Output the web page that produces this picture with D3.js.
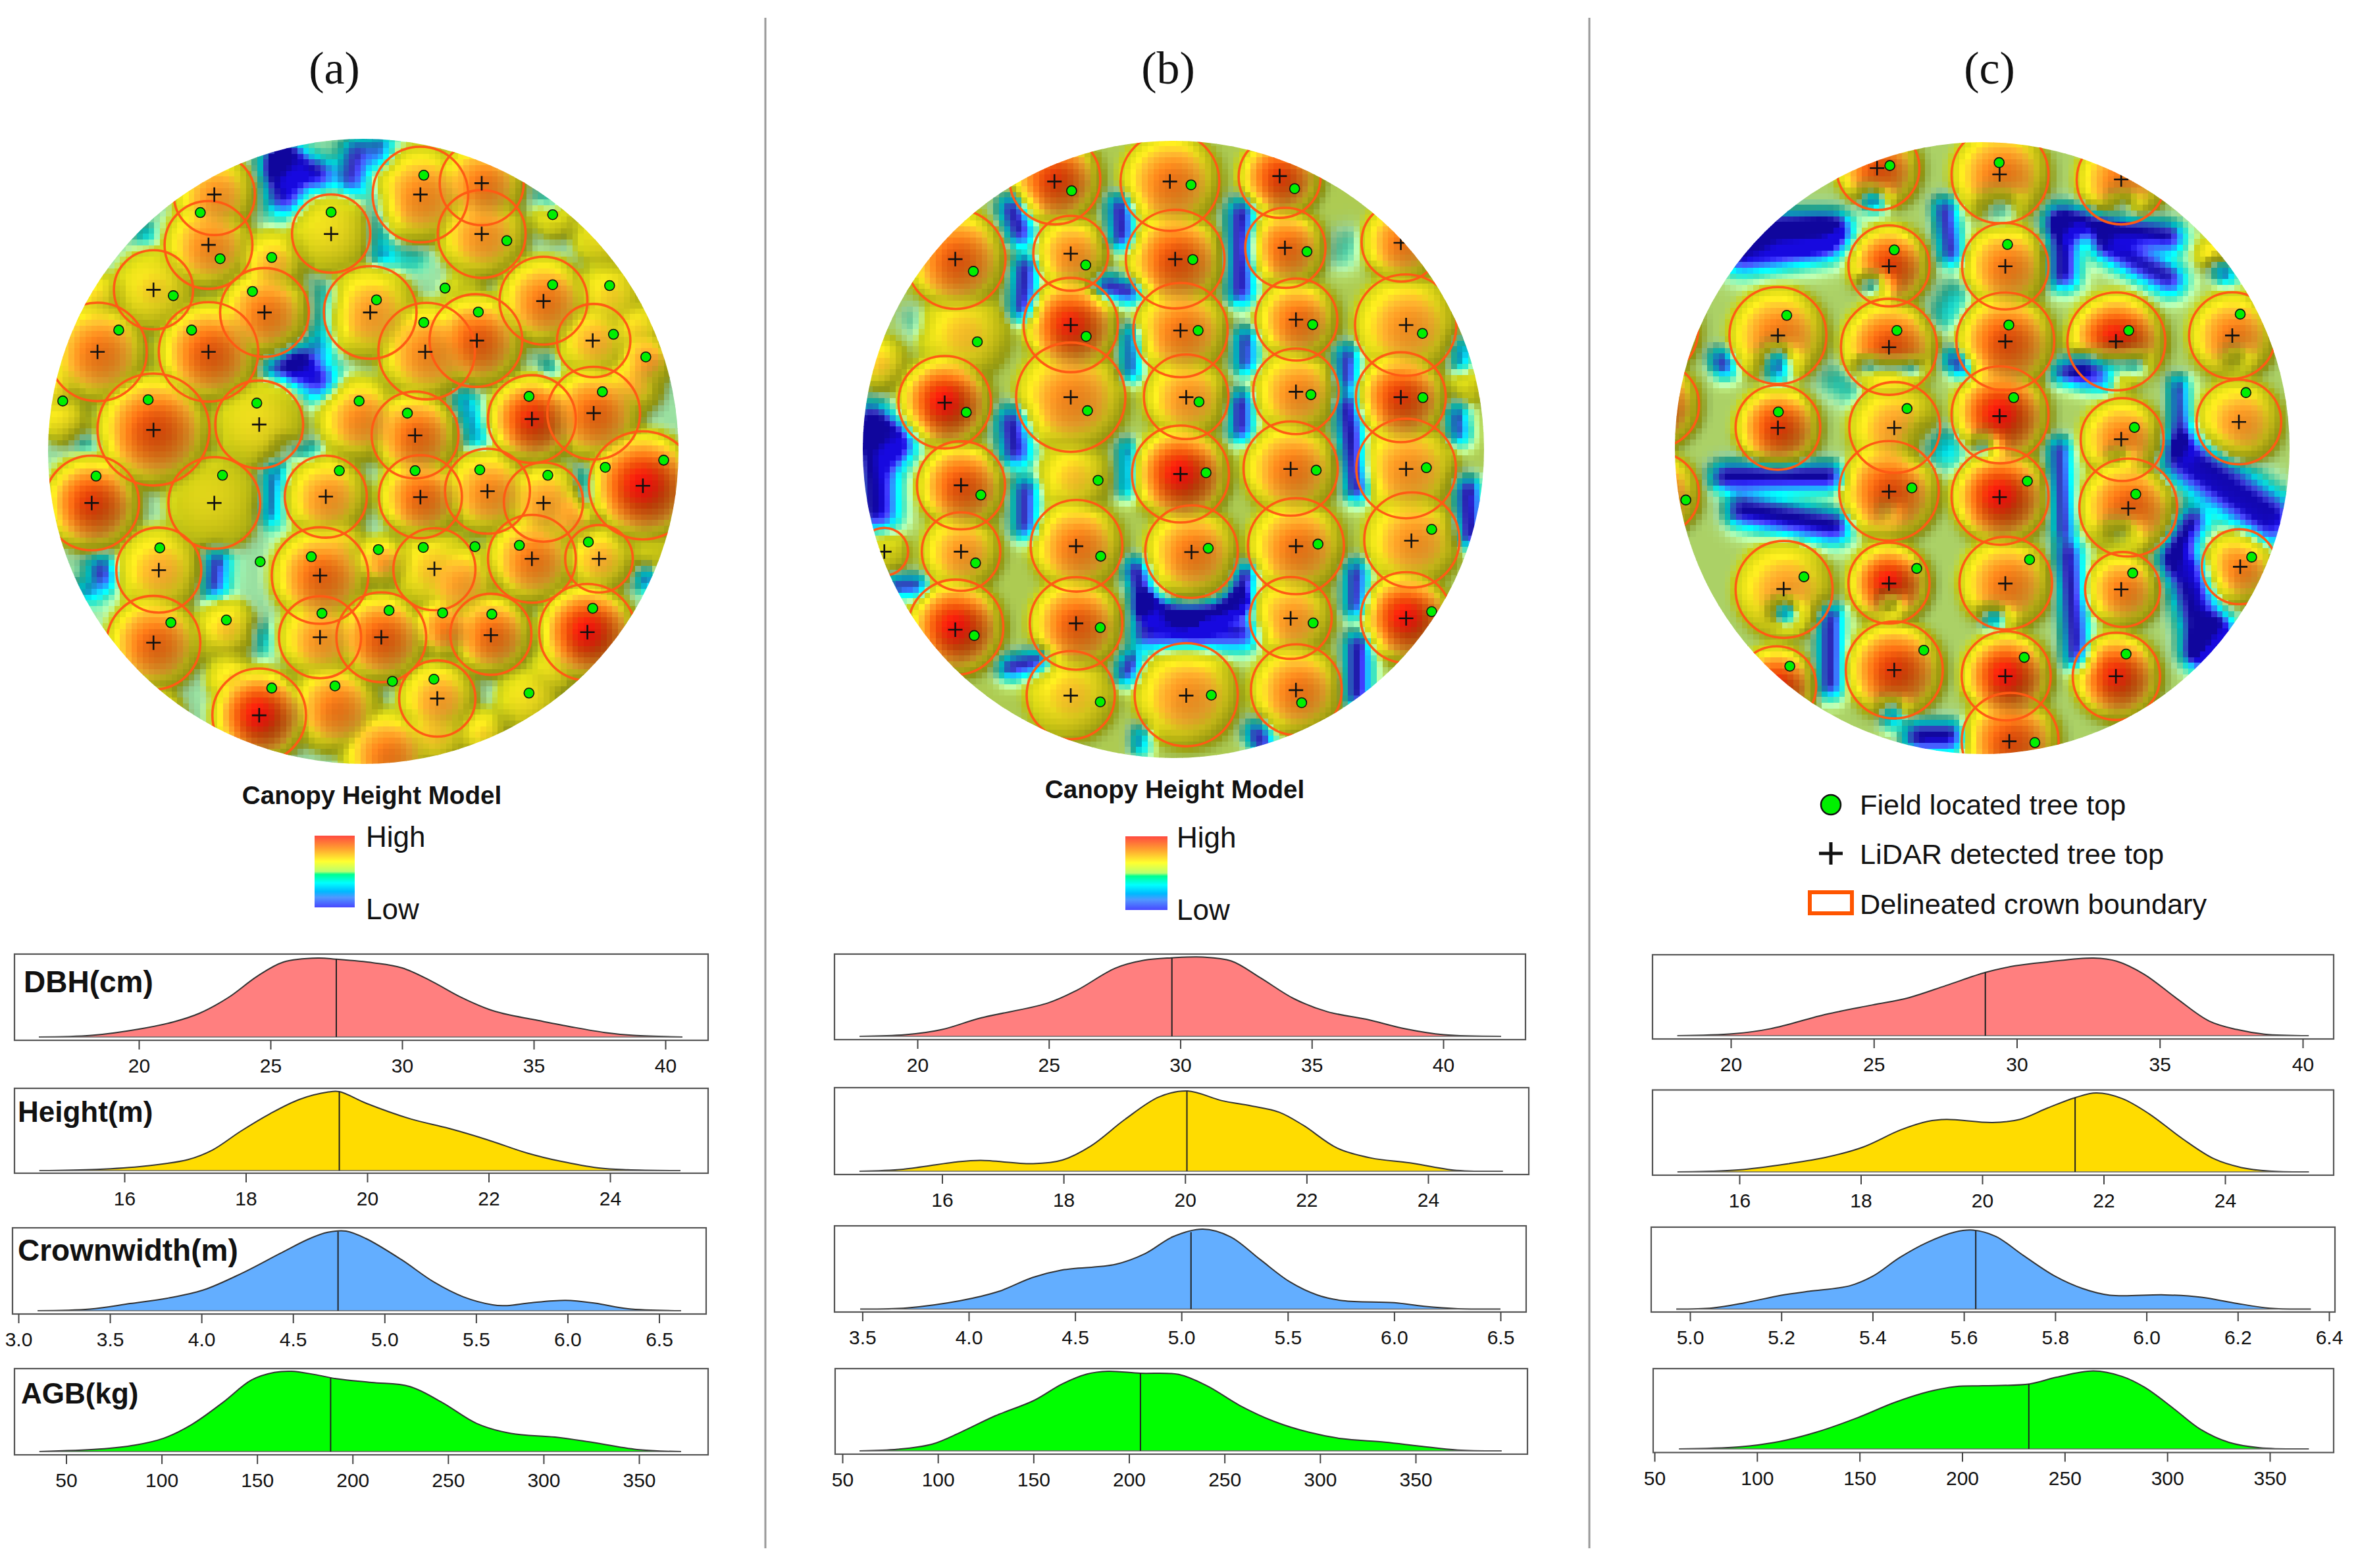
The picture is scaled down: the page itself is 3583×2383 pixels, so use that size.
<!DOCTYPE html>
<html>
<head>
<meta charset="utf-8">
<script src="https://cdn.jsdelivr.net/npm/d3@7"></script>
<style>
body { margin: 0; background: #fff; }
text { font-family: "Liberation Sans", Arial, sans-serif; fill: #111; }
</style>
</head>
<body>
<script>
// Crowns on the map: x, y, radius, peak height (0-1)
var crownsA = [[444,197,84,.8],[432,317,91,.82],[686,290,81,.68],[871,197,99,.82],[998,170,87,.85],[998,291,91,.8],[318,424,82,.7],[548,478,92,.85],[767,478,96,.78],[1126,450,91,.85],[202,572,102,.85],[432,572,103,.9],[884,570,100,.82],[986,545,96,.9],[1230,545,76,.75],[318,757,116,.92],[537,745,91,.68],[860,770,90,.88],[1102,732,91,.97],[1230,718,96,.88],[1332,890,112,1],[190,932,98,.95],[444,932,95,.65],[675,917,85,.8],[871,917,86,.88],[1010,904,88,.82],[1126,930,82,.78],[329,1092,88,.75],[663,1105,100,.88],[900,1090,85,.72],[1102,1065,91,.85],[1241,1065,70,.75],[318,1265,97,.88],[663,1252,85,.8],[790,1252,93,.9],[1017,1245,84,.88],[1217,1240,100,1],[537,1438,97,1],[906,1398,79,.78]];
var crownsB = [[527,160,103,.95],[788,166,112,.85],[1037,155,93,.95],[302,351,113,.9],[563,337,85,.82],[800,351,112,.92],[1050,324,91,.88],[1313,310,90,.85],[563,508,107,.98],[812,520,107,.85],[1075,495,93,.87],[1323,508,115,.8],[277,692,105,1],[563,680,124,.82],[825,679,96,.8],[1074,666,97,.82],[1312,680,102,.95],[812,863,110,1],[1062,850,107,.85],[1324,850,113,.8],[314,890,100,.92],[314,1048,89,.8],[576,1034,104,.85],[837,1048,105,.85],[1074,1035,109,.85],[1337,1020,108,.8],[140,1048,54,.62],[302,1228,108,1],[575,1219,105,.9],[1062,1206,93,.8],[1324,1205,103,1],[563,1390,100,.72],[825,1389,117,.8],[1075,1377,103,.85]];
var crownsC = [[528,135,94,.92],[805,150,110,.85],[1080,162,101,.85],[553,367,92,.95],[817,368,98,.85],[301,533,110,.85],[553,560,109,.92],[817,547,111,.92],[1069,547,111,1],[1332,533,98,.85],[301,752,96,.95],[566,752,103,.78],[805,722,110,1],[1082,781,94,.85],[1347,739,96,.8],[553,903,113,.92],[805,916,110,1],[1096,943,111,.9],[1348,1084,85,.85],[315,1138,110,.78],[553,1123,92,1],[818,1123,105,.85],[1083,1138,85,.85],[565,1330,110,.95],[819,1344,101,1],[1069,1345,99,.98],[828,1500,110,.92],[298,1368,90,.98],[30,910,92,.85],[25,698,97,.92],[15,520,105,.85]];

// LiDAR detected tree tops
var lidarA = [[444,197],[432,317],[686,291],[871,197],[998,170],[998,291],[318,424],[548,478],[767,478],[1126,451],[202,572],[432,572],[881,572],[988,545],[1228,545],[318,758],[537,745],[860,771],[1102,732],[1230,718],[1332,891],[190,932],[444,932],[675,917],[871,918],[1010,904],[1126,932],[329,1092],[663,1105],[900,1089],[1102,1065],[1241,1065],[318,1265],[663,1252],[790,1252],[1017,1247],[1217,1240],[537,1438],[906,1398]];
var lidarB = [[526,166],[788,166],[1037,153],[301,351],[563,338],[800,351],[1049,324],[1312,312],[563,508],[812,521],[1074,495],[1324,508],[277,693],[563,680],[825,680],[1074,667],[1312,680],[812,863],[1062,851],[1324,851],[314,890],[314,1048],[575,1035],[837,1049],[1074,1035],[1336,1022],[140,1048],[301,1234],[575,1219],[1062,1207],[1324,1207],[563,1391],[825,1391],[1074,1378]];
var lidarC = [[526,134],[804,149],[1080,161],[553,368],[817,368],[301,533],[553,561],[817,547],[1068,547],[1332,533],[301,753],[565,753],[804,725],[1080,780],[1347,739],[553,905],[804,918],[1096,945],[1350,1084],[314,1137],[553,1124],[817,1124],[1080,1138],[565,1330],[817,1345],[1068,1345],[826,1500]];

// Field located tree tops
var fieldA = [[415,240],[456,350],[563,347],[686,239],[878,151],[1050,307],[1145,245],[359,438],[246,520],[397,520],[523,428],[780,448],[922,420],[878,502],[991,477],[1145,412],[1263,414],[1271,530],[1338,584],[130,689],[307,686],[532,694],[744,689],[844,718],[1096,678],[1248,667],[199,868],[461,866],[703,855],[860,855],[994,853],[1135,866],[1254,847],[1375,830],[331,1039],[539,1072],[645,1060],[784,1043],[877,1038],[984,1036],[1076,1033],[1219,1025],[354,1217],[469,1211],[667,1195],[806,1188],[917,1194],[1019,1197],[1228,1183],[563,1373],[694,1368],[813,1357],[899,1352],[1096,1385]];
var fieldB = [[565,188],[836,174],[1071,183],[342,380],[597,365],[840,352],[1099,333],[351,548],[598,535],[852,521],[1112,507],[1361,528],[326,716],[601,712],[854,691],[1108,674],[1362,681],[625,878],[870,860],[1120,854],[1370,848],[359,913],[347,1075],[631,1059],[875,1040],[1124,1030],[1382,995],[344,1248],[630,1229],[1113,1218],[1382,1191],[630,1406],[882,1390],[1087,1408]];
var fieldC = [[555,128],[803,121],[565,329],[822,316],[321,485],[571,521],[825,508],[1097,521],[1350,482],[1363,669],[302,715],[594,707],[836,681],[1110,752],[605,896],[867,880],[1113,911],[92,925],[1376,1061],[360,1108],[616,1088],[872,1067],[1106,1099],[632,1283],[860,1300],[1091,1292],[328,1321],[884,1503]];

// Canopy bumps with no delineated crown: x, y, radius, peak
var hillsA = [[744,730,85,.82],[563,360,65,.75],[1263,440,70,.7],[1338,590,55,.8],[130,730,50,.68],[469,1230,60,.72],[694,1420,90,.85],[800,1530,90,.85],[1096,1400,65,.68],[790,1070,50,.8],[920,1230,60,.85],[320,1440,60,.72],[1150,250,45,.62],[200,440,50,.7],[1000,1480,50,.7],[950,1120,80,.78],[1180,960,60,.78],[1310,650,60,.75],[1250,300,60,.66],[1320,520,60,.7],[1350,1050,50,.6],[120,650,45,.7],[700,1040,60,.72],[480,1350,50,.7],[900,1480,70,.72],[1150,1330,50,.66],[420,1260,40,.6],[960,430,40,.58]];
var hillsB = [[320,530,100,.72],[570,870,80,.72],[130,600,60,.72],[1470,650,40,.6]];
var hillsC = [[1290,340,40,.72]];

// Canopy gaps, as strips: x1, y1, x2, y2, width, depth
var gapsA = [[590,110,590,200,30,.42],[580,130,660,150,25,.42],[740,100,730,160,25,.35],[790,80,790,110,20,.25],[620,600,660,640,30,.4],[570,610,620,610,20,.25],[780,200,790,340,18,.15],[680,440,665,560,22,.18],[300,290,300,290,15,.2],[450,1070,445,1130,20,.35],[210,1090,215,1110,22,.35],[170,1140,190,1150,15,.2],[570,850,560,960,20,.25],[960,680,990,780,20,.2],[1210,870,1215,930,12,.25],[1340,1100,1340,1120,14,.35],[1130,210,1150,220,15,.2],[1135,600,1140,620,10,.15],[540,1240,545,1270,14,.15],[800,350,860,350,20,.1],[590,800,650,810,15,.15],[170,790,200,800,15,.1]];
var gapsB = [[430,230,450,290,24,.45],[460,370,455,470,22,.45],[430,740,440,810,28,.45],[460,900,460,990,22,.42],[675,225,680,300,22,.45],[640,415,700,430,20,.45],[700,530,700,620,18,.35],[690,800,690,900,16,.3],[710,1090,735,1180,20,.48],[735,1180,840,1215,20,.48],[840,1215,945,1170,20,.48],[945,1170,960,1100,18,.48],[740,1240,950,1240,32,.45],[700,1310,690,1340,20,.42],[425,1325,490,1310,20,.45],[950,240,950,430,24,.45],[960,540,960,600,20,.4],[950,690,950,760,20,.45],[1190,580,1190,640,20,.42],[1190,700,1215,900,22,.48],[1210,1095,1210,1180,20,.42],[1215,1270,1215,1390,22,.48],[110,740,165,790,36,.5],[120,800,125,950,38,.5],[165,1130,215,1130,18,.42],[1440,720,1445,770,18,.38],[1465,900,1470,1010,22,.48],[720,1480,720,1520,14,.3],[985,1480,1000,1510,20,.45],[1450,560,1450,600,16,.3],[1190,310,1180,340,28,.1],[200,490,210,510,25,.08]];
var gapsC = [[290,280,430,280,30,.5],[220,340,400,310,34,.5],[940,255,1190,300,26,.48],[950,290,950,390,26,.48],[1050,320,1190,400,28,.45],[1000,600,1110,600,24,.5],[950,620,1040,640,20,.42],[180,870,420,870,24,.5],[220,950,430,990,28,.5],[1230,830,1420,970,46,.5],[1240,980,1200,1060,26,.48],[1230,1100,1270,1260,36,.5],[1300,1240,1260,1290,28,.5],[960,1050,980,1300,22,.46],[420,1200,420,1370,20,.45],[560,1420,560,1440,18,.4],[620,1490,690,1490,26,.5],[680,230,695,340,20,.42],[170,590,180,610,18,.42],[1210,650,1215,800,16,.4],[1300,370,1320,390,16,.35],[940,800,950,1000,18,.42],[700,590,720,610,18,.42],[515,205,520,210,20,.55],[515,410,520,410,20,.5],[300,590,300,610,26,.55],[500,605,610,610,14,.5],[315,1190,320,1195,20,.55],[555,1170,560,1170,15,.45],[790,1205,795,1205,18,.5],[770,790,770,800,18,.4],[800,225,810,225,30,.3],[1080,215,1090,215,20,.3],[1340,585,1340,590,20,.25],[1075,1000,1085,1000,28,.3],[1070,820,1080,820,16,.25],[550,950,550,955,14,.2],[430,640,460,660,30,.12],[700,440,680,480,30,.15],[680,800,640,790,40,.2]];

// Density curves: x in data units, y relative to the peak; medians as drawn
var aDbhX = [16.2,18.2,20,21.3,22.3,23.4,24.5,25.5,26.8,27.5,28.9,30,31.1,32.2,33.3,34,35,36.4,37.7,38.8,40.65];
var aDbhY = [0,.02,.1,.19,.3,.5,.77,.95,1,.985,.94,.875,.71,.51,.35,.285,.22,.13,.057,.02,0];
var aHeightX = [14.6,15.54,16.33,17.05,17.45,17.92,18.4,18.88,19.36,19.54,19.99,20.71,21.34,21.98,22.62,23.17,23.81,24.29,25.16];
var aHeightY = [0,.015,.057,.14,.26,.5,.72,.9,.995,1,.85,.655,.535,.39,.225,.12,.033,.01,0];
var aCrownX = [3.105,3.39,3.61,3.82,4.01,4.22,4.43,4.59,4.69,4.79,4.9,5.09,5.27,5.43,5.59,5.67,5.8,5.99,6.15,6.33,6.62];
var aCrownY = [0,.02,.09,.16,.26,.47,.72,.905,.985,1,.905,.645,.36,.175,.075,.065,.1,.13,.095,.025,0];
var aAgbX = [36,67,86,101,116,132,147,159,168,180,192,210,230,247,265,283,306,324,349,372];
var aAgbY = [0,.03,.08,.165,.34,.61,.89,.985,1,.96,.905,.86,.81,.61,.35,.225,.18,.12,.025,0];
var bDbhX = [17.8,19.54,20.92,22.39,24.96,26.06,27.53,28.63,29.68,30.84,31.94,33.04,34.32,35.6,37.08,38.55,40.02,42.2];
var bDbhY = [0,.02,.085,.23,.42,.58,.86,.96,.99,1,.95,.74,.475,.31,.215,.095,.02,0];
var bHeightX = [14.64,15.36,16.23,16.63,17.5,17.98,18.45,19.01,19.57,20.04,20.6,21.08,21.55,21.95,22.5,23.06,23.7,24.41,25.23];
var bHeightY = [0,.025,.115,.135,.095,.14,.315,.645,.925,1,.88,.815,.735,.57,.29,.165,.105,.015,0];
var bCrownX = [3.49,3.71,3.96,4.14,4.3,4.44,4.69,4.83,4.96,5.1,5.23,5.37,5.51,5.64,5.76,6,6.14,6.3,6.5];
var bCrownY = [0,.015,.105,.22,.395,.49,.56,.695,.905,1,.905,.62,.34,.175,.105,.08,.035,.005,0];
var bAgbX = [59,79,97,112,130,150,165,178,189,206,226,241,258,276,294,311,334,352,372,395];
var bAgbY = [0,.02,.085,.235,.44,.63,.84,.965,1,.975,.96,.815,.57,.37,.235,.155,.11,.06,.01,0];
var cDbhX = [18.13,20.1,21.39,23.33,24.94,26.23,27.52,28.91,29.94,31.07,32.69,33.49,34.46,35.59,36.72,37.69,38.66,40.21];
var cDbhY = [0,.025,.09,.275,.395,.49,.645,.815,.9,.95,1,.96,.79,.48,.19,.08,.02,0];
var cHeightX = [14.98,15.98,16.82,17.43,18.04,18.65,19.1,19.41,20.17,20.62,21.08,21.53,21.88,22.3,22.75,23.29,23.82,24.27,24.73,25.38];
var cHeightY = [0,.025,.105,.185,.315,.53,.64,.665,.625,.665,.81,.94,1,.93,.735,.425,.165,.055,.01,0];
var cCrownX = [4.97,5.05,5.12,5.2,5.26,5.35,5.4,5.46,5.52,5.58,5.62,5.67,5.73,5.8,5.86,5.92,6.04,6.12,6.19,6.27,6.36];
var cCrownY = [0,.015,.08,.175,.225,.295,.415,.655,.845,.975,1,.92,.68,.415,.26,.175,.18,.15,.08,.01,0];
var cAgbX = [62,91,111,129,149,167,183,197,210,233,246,264,278,289,303,316,330,345,369];
var cAgbY = [0,.025,.095,.215,.4,.595,.73,.8,.81,.835,.92,1,.93,.79,.52,.255,.085,.015,0];

var aMedians = [27.5, 19.54, 4.746, 188.5];
var bMedians = [29.68, 20.03, 5.045, 206];
var cMedians = [28.9, 21.53, 5.626, 232.5];

var dbhTicks = [20, 25, 30, 35, 40];
var heightTicks = [16, 18, 20, 22, 24];
var crownTicksA = [3, 3.5, 4, 4.5, 5, 5.5, 6, 6.5];
var crownTicksB = [3.5, 4, 4.5, 5, 5.5, 6, 6.5];
var crownTicksC = [5, 5.2, 5.4, 5.6, 5.8, 6, 6.2, 6.4];
var agbTicks = [50, 100, 150, 200, 250, 300, 350];

var varLabels = ["DBH(cm)", "Height(m)", "Crownwidth(m)", "AGB(kg)"];
var fills = ["#ff7f7f", "#ffdc00", "#63aeff", "#00ff00"];

var svg = d3.select("body").append("svg")
    .attr("width", 3583)
    .attr("height", 2383)
    .style("display", "block");

var defs = svg.append("defs");

// Height colour ramp of the map
var chmColor = d3.scaleLinear()
    .domain([0, .1, .2, .29, .37, .45, .52, .6, .67, .74, .83, .92, 1])
    .range(["#1408c4", "#4444f0", "#2090e4", "#00e4ea", "#34c8a8", "#a8e4a0", "#b0b818", "#c8c414", "#e4d41c", "#f4aa2c", "#e87818", "#d24408", "#e80c0c"])
    .clamp(true);

function distToStrip(px, py, g) {
    var dx = g.x2 - g.x1, dy = g.y2 - g.y1;
    var len = dx * dx + dy * dy;
    var t = len === 0 ? 0 : Math.max(0, Math.min(1, ((px - g.x1) * dx + (py - g.y1) * dy) / len));
    return Math.hypot(px - g.x1 - t * dx, py - g.y1 - t * dy);
}

function drawMap(id, crop, plot, base, crowns, hills, gaps, lidar, field) {
    var sx = d3.scaleLinear().domain([0, 1568]).range([crop.x, crop.x + crop.w]);
    var sy = d3.scaleLinear().domain([0, 1568]).range([crop.y, crop.y + crop.h]);
    var k = crop.w / 1568;

    var bumps = crowns.concat(hills).map(function(d) {
        return {x: sx(d[0]), y: sy(d[1]), r: d[2] * k, peak: d[3]};
    });
    var strips = gaps.map(function(d) {
        return {x1: sx(d[0]), y1: sy(d[1]), x2: sx(d[2]), y2: sy(d[3]), w: d[4] * k * 1.2, depth: d[5] * 1.1};
    });

    // surface on the raster grid
    var step = 8.7;
    var nx = Math.ceil(plot.rx * 2 / step) + 6, ny = Math.ceil(plot.ry * 2 / step) + 6;
    var x0 = plot.cx - nx * step / 2, y0 = plot.cy - ny * step / 2;
    var raw = [];
    for (var j = 0; j < ny; j++) {
        var row = [];
        for (var i = 0; i < nx; i++) {
            var px = x0 + (i + .5) * step, py = y0 + (j + .5) * step;
            var v = base;
            bumps.forEach(function(b) {
                var s = Math.hypot(px - b.x, py - b.y) / b.r;
                var h = s <= 1 ? .55 + (b.peak - .55) * (1 - s * s) : .55 - (s - 1) * .6;
                if (h > v) v = h;
            });
            strips.forEach(function(g) {
                var e = distToStrip(px, py, g) / g.w;
                v -= g.depth * Math.exp(-e * e);
            });
            row.push(v);
        }
        raw.push(row);
    }

    // soften the kinks between neighbouring crowns
    var surface = raw.map(function(row, j) {
        return row.map(function(v, i) {
            var sum = 0, n = 0;
            for (var b = Math.max(0, j - 1); b <= Math.min(ny - 1, j + 1); b++) {
                for (var a = Math.max(0, i - 1); a <= Math.min(nx - 1, i + 1); a++) {
                    sum += raw[b][a];
                    n++;
                }
            }
            return sum / n;
        });
    });

    var cells = [];
    surface.forEach(function(row, j) {
        row.forEach(function(v, i) {
            if (i === 0 || j === 0) return;
            // light from the upper left
            var slope = (v - row[i - 1]) + (v - surface[j - 1][i]);
            var c = d3.rgb(chmColor(v));
            var shade = 1 + Math.max(-.2, Math.min(.14, slope * 2.8));
            cells.push({i: i, j: j, fill: d3.rgb(c.r * shade, c.g * shade, c.b * shade) + ""});
        });
    });

    defs.append("clipPath").attr("id", "clip" + id)
        .append("ellipse")
        .attr("cx", plot.cx).attr("cy", plot.cy)
        .attr("rx", plot.rx).attr("ry", plot.ry);

    var g = svg.append("g").attr("clip-path", "url(#clip" + id + ")");

    g.append("g").selectAll("rect")
        .data(cells)
        .enter().append("rect")
        .attr("x", function(d) { return x0 + d.i * step; })
        .attr("y", function(d) { return y0 + d.j * step; })
        .attr("width", step + .6)
        .attr("height", step + .6)
        .attr("fill", function(d) { return d.fill; })
        .attr("shape-rendering", "crispEdges");

    g.append("g").selectAll("circle")
        .data(crowns)
        .enter().append("circle")
        .attr("cx", function(d) { return sx(d[0]); })
        .attr("cy", function(d) { return sy(d[1]); })
        .attr("r", function(d) { return d[2] * k; })
        .attr("fill", "none")
        .attr("stroke", "#ff5a14")
        .attr("stroke-width", 3.6);

    g.append("g").selectAll("path")
        .data(lidar)
        .enter().append("path")
        .attr("transform", function(d) { return "translate(" + sx(d[0]) + "," + sy(d[1]) + ")"; })
        .attr("d", "M-11,0H11M0,-11V11")
        .attr("stroke", "#111")
        .attr("stroke-width", 2.6)
        .attr("fill", "none");

    g.append("g").selectAll("circle")
        .data(field)
        .enter().append("circle")
        .attr("cx", function(d) { return sx(d[0]); })
        .attr("cy", function(d) { return sy(d[1]); })
        .attr("r", 7.5)
        .attr("fill", "#00f000")
        .attr("stroke", "#111")
        .attr("stroke-width", 1.6);
}

drawMap("A", {x: 0, y: 170, w: 1150, h: 1000}, {cx: 552, cy: 686, rx: 479, ry: 475}, .44, crownsA, hillsA, gapsA, lidarA, fieldA);
drawMap("B", {x: 1250, y: 170, w: 1050, h: 1000}, {cx: 1783, cy: 683, rx: 472, ry: 469}, .49, crownsB, hillsB, gapsB, lidarB, fieldB);
drawMap("C", {x: 2500, y: 170, w: 1050, h: 1000}, {cx: 3012, cy: 681, rx: 467, ry: 465}, .48, crownsC, hillsC, gapsC, lidarC, fieldC);

// Density panels
function drawDensity(box, xs, ys, median, ticks, fmt, color, tickFrom, tickTo) {
    var x = d3.scaleLinear().domain([tickFrom[0], tickTo[0]]).range([tickFrom[1], tickTo[1]]);
    var y = d3.scaleLinear().domain([0, 1]).range([box.base, box.top]);
    var points = xs.map(function(d, i) { return [d, ys[i]]; });

    var g = svg.append("g");

    var line = d3.line()
        .x(function(d) { return x(d[0]); })
        .y(function(d) { return y(d[1]); })
        .curve(d3.curveCatmullRom.alpha(.5));

    var area = d3.area()
        .x(function(d) { return x(d[0]); })
        .y0(box.base)
        .y1(function(d) { return y(d[1]); })
        .curve(d3.curveCatmullRom.alpha(.5));

    g.append("path").datum(points)
        .attr("d", area)
        .attr("fill", color);

    g.append("path").datum(points)
        .attr("d", line)
        .attr("fill", "none")
        .attr("stroke", "#333")
        .attr("stroke-width", 2);

    g.append("line")
        .attr("x1", x(xs[0])).attr("x2", x(xs[xs.length - 1]))
        .attr("y1", box.base).attr("y2", box.base)
        .attr("stroke", "#666")
        .attr("stroke-width", 1.6);

    // median line stops at the curve
    var i = d3.bisectLeft(xs, median);
    var t = (median - xs[i - 1]) / (xs[i] - xs[i - 1]);
    var medianY = ys[i - 1] + t * (ys[i] - ys[i - 1]);
    g.append("line")
        .attr("x1", x(median)).attr("x2", x(median))
        .attr("y1", box.base).attr("y2", y(medianY))
        .attr("stroke", "#222")
        .attr("stroke-width", 2);

    g.append("rect")
        .attr("x", box.x0).attr("y", box.y0)
        .attr("width", box.x1 - box.x0).attr("height", box.y1 - box.y0)
        .attr("fill", "none")
        .attr("stroke", "#555")
        .attr("stroke-width", 2.2);

    var axis = g.append("g")
        .attr("class", "axis")
        .attr("transform", "translate(0," + box.y1 + ")")
        .call(d3.axisBottom(x).tickValues(ticks).tickFormat(fmt).tickSize(14).tickPadding(14));
    axis.select(".domain").remove();
    axis.selectAll("line").attr("stroke", "#444").attr("stroke-width", 2);
    axis.selectAll("text").style("font-size", "30px").attr("fill", "#111")
        .style("font-family", '"Liberation Sans", Arial, sans-serif');
}

var fmt0 = d3.format("d"), fmt1 = d3.format(".1f");

// column a
drawDensity({x0: 22, x1: 1076, y0: 1450, y1: 1581, base: 1576, top: 1456}, aDbhX, aDbhY, aMedians[0], dbhTicks, fmt0, fills[0], [20, 211], [40, 1011]);
drawDensity({x0: 22, x1: 1076, y0: 1654, y1: 1783, base: 1779, top: 1659}, aHeightX, aHeightY, aMedians[1], heightTicks, fmt0, fills[1], [16, 189], [24, 927]);
drawDensity({x0: 19, x1: 1073, y0: 1866, y1: 1997, base: 1992, top: 1871}, aCrownX, aCrownY, aMedians[2], crownTicksA, fmt1, fills[2], [3, 28], [6.5, 1001.5]);
drawDensity({x0: 22, x1: 1076, y0: 2080, y1: 2211, base: 2206, top: 2084}, aAgbX, aAgbY, aMedians[3], agbTicks, fmt0, fills[3], [50, 100.5], [350, 971]);

// column b
drawDensity({x0: 1268, x1: 2318, y0: 1450, y1: 1580, base: 1575, top: 1454.5}, bDbhX, bDbhY, bMedians[0], dbhTicks, fmt0, fills[0], [20, 1394], [40, 2193]);
drawDensity({x0: 1268, x1: 2323, y0: 1653, y1: 1785, base: 1780, top: 1658}, bHeightX, bHeightY, bMedians[1], heightTicks, fmt0, fills[1], [16, 1431.5], [24, 2170]);
drawDensity({x0: 1268, x1: 2319, y0: 1863, y1: 1994, base: 1989.5, top: 1868}, bCrownX, bCrownY, bMedians[2], crownTicksB, fmt1, fills[2], [3.5, 1310.4], [6.5, 2280]);
drawDensity({x0: 1269, x1: 2321, y0: 2080, y1: 2210, base: 2205, top: 2084}, bAgbX, bAgbY, bMedians[3], agbTicks, fmt0, fills[3], [50, 1280], [350, 2151]);

// column c
drawDensity({x0: 2511, x1: 3546, y0: 1451, y1: 1579, base: 1574, top: 1456}, cDbhX, cDbhY, cMedians[0], dbhTicks, fmt0, fills[0], [20, 2630], [40, 3499]);
drawDensity({x0: 2511, x1: 3546, y0: 1656.5, y1: 1786, base: 1781, top: 1661}, cHeightX, cHeightY, cMedians[1], heightTicks, fmt0, fills[1], [16, 2643], [24, 3381]);
drawDensity({x0: 2509, x1: 3548, y0: 1865, y1: 1994, base: 1989.5, top: 1869.5}, cCrownX, cCrownY, cMedians[2], crownTicksC, fmt1, fills[2], [5, 2568], [6.4, 3539]);
drawDensity({x0: 2512, x1: 3546, y0: 2080, y1: 2207.5, base: 2202, top: 2083.6}, cAgbX, cAgbY, cMedians[3], agbTicks, fmt0, fills[3], [50, 2514], [350, 3449]);

// labels inside the panels of column a
var labelPos = [[36, 1508], [27, 1705], [27, 1916], [32, 2133]];
var labelSize = [46, 44, 46, 44];
svg.append("g").selectAll("text")
    .data(varLabels)
    .enter().append("text")
    .attr("x", function(d, i) { return labelPos[i][0]; })
    .attr("y", function(d, i) { return labelPos[i][1]; })
    .style("font-size", function(d, i) { return labelSize[i] + "px"; })
    .style("font-weight", "bold")
    .text(function(d) { return d; });

// Panel titles
var panelTitles = ["(a)", "(b)", "(c)"];
var titleX = [508, 1775, 3023];
svg.append("g").selectAll("text")
    .data(panelTitles)
    .enter().append("text")
    .attr("x", function(d, i) { return titleX[i]; })
    .attr("y", 127)
    .attr("text-anchor", "middle")
    .style("font-family", '"Liberation Serif", "Times New Roman", serif')
    .style("font-size", "70px")
    .text(function(d) { return d; });

// Separators
[1163, 2415].forEach(function(x) {
    svg.append("line")
        .attr("x1", x).attr("x2", x)
        .attr("y1", 27).attr("y2", 2353)
        .attr("stroke", "#999")
        .attr("stroke-width", 3);
});

// Colour bar legends
var rampStops = [[0, "#ff4a40"], [.18, "#ffa030"], [.36, "#ffff30"], [.5, "#b8ff70"], [.54, "#00ff90"], [.66, "#00ffff"], [.78, "#00b8ff"], [.86, "#5098ff"], [1, "#4848ff"]];
var grad = defs.append("linearGradient").attr("id", "ramp")
    .attr("x1", 0).attr("x2", 0).attr("y1", 0).attr("y2", 1);
grad.selectAll("stop")
    .data(rampStops)
    .enter().append("stop")
    .attr("offset", function(d) { return d[0]; })
    .attr("stop-color", function(d) { return d[1]; });

function colorKey(titleCx, titleY, barX, barW, barY, barH, textX) {
    svg.append("text")
        .attr("x", titleCx).attr("y", titleY)
        .attr("text-anchor", "middle")
        .style("font-size", "38.6px")
        .style("font-weight", "bold")
        .text("Canopy Height Model");
    svg.append("rect")
        .attr("x", barX).attr("y", barY)
        .attr("width", barW).attr("height", barH)
        .attr("fill", "url(#ramp)");
    svg.append("text")
        .attr("x", textX).attr("y", barY + 17)
        .style("font-size", "44px")
        .text("High");
    svg.append("text")
        .attr("x", textX).attr("y", barY + 127)
        .style("font-size", "44px")
        .text("Low");
}
colorKey(565, 1222, 478, 61, 1270, 109, 556);
colorKey(1785, 1213, 1710, 64, 1271, 112, 1788);

// Symbol legend
var legendItems = ["Field located tree top", "LiDAR detected tree top", "Delineated crown boundary"];
var legendY = [1238, 1313, 1389];
svg.append("g").selectAll("text")
    .data(legendItems)
    .enter().append("text")
    .attr("x", 2826)
    .attr("y", function(d, i) { return legendY[i]; })
    .style("font-size", "43.3px")
    .text(function(d) { return d; });

svg.append("ellipse")
    .attr("cx", 2782).attr("cy", 1223)
    .attr("rx", 15).attr("ry", 15)
    .attr("fill", "#00f000").attr("stroke", "#111").attr("stroke-width", 2.5);
svg.append("path")
    .attr("transform", "translate(2782,1297)")
    .attr("d", "M-18,0H18M0,-17V17")
    .attr("stroke", "#111").attr("stroke-width", 5).attr("fill", "none");
svg.append("rect")
    .attr("x", 2750).attr("y", 1356)
    .attr("width", 64).attr("height", 32)
    .attr("fill", "none").attr("stroke", "#ff5500").attr("stroke-width", 6);
</script>
</body>
</html>
